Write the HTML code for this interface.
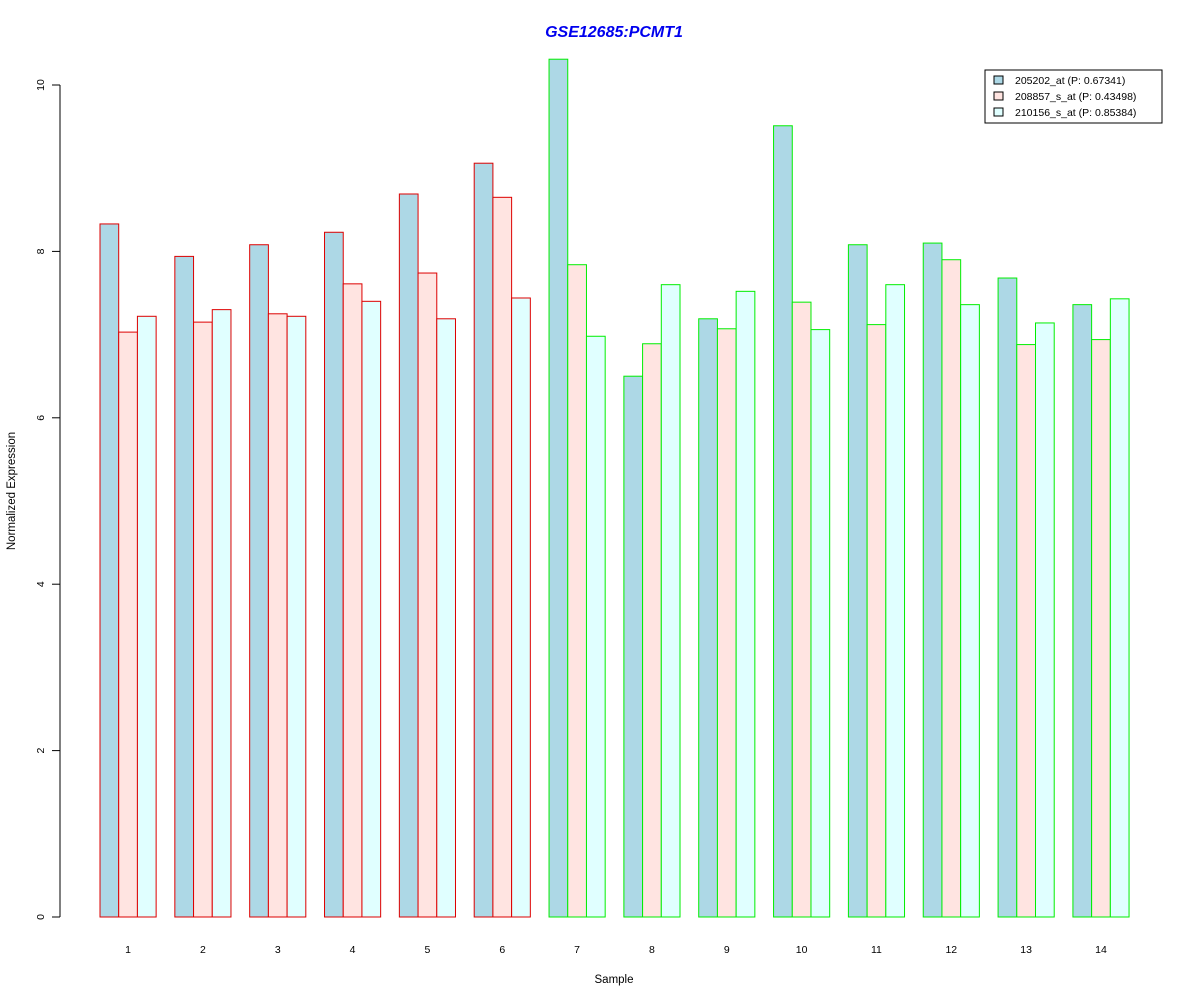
<!DOCTYPE html>
<html><head><meta charset="utf-8"><style>body{margin:0;background:#fff}svg{display:block}</style></head>
<body>
<svg id="chart" width="1200" height="1000" xmlns="http://www.w3.org/2000/svg" font-family="Liberation Sans, sans-serif">
<text x="614" y="37" text-anchor="middle" font-size="16" font-weight="bold" font-style="italic" fill="#0000ee">GSE12685:PCMT1</text>
<text x="614" y="983" text-anchor="middle" font-size="11.5">Sample</text>
<text transform="translate(15,491) rotate(-90)" text-anchor="middle" font-size="11.5">Normalized Expression</text>
<g id="bars"></g><g id="axes"></g>
<g>
<rect x="985" y="70" width="177" height="53" fill="#fff" stroke="#000"/>
<rect x="994" y="76" width="9" height="8" fill="#ADD8E6" stroke="#000"/>
<text x="1015" y="84" font-size="10.5">205202_at (P: 0.67341)</text>
<rect x="994" y="92" width="9" height="8" fill="#FFE4E1" stroke="#000"/>
<text x="1015" y="100" font-size="10.5">208857_s_at (P: 0.43498)</text>
<rect x="994" y="108" width="9" height="8" fill="#E0FFFF" stroke="#000"/>
<text x="1015" y="116" font-size="10.5">210156_s_at (P: 0.85384)</text>
</g>
</svg>
<script>
const samples=["1","2","3","4","5","6","7","8","9","10","11","12","13","14"];
const s205202=[8.33,7.94,8.08,8.23,8.69,9.06,10.31,6.50,7.19,9.51,8.08,8.10,7.68,7.36];
const s208857=[7.03,7.15,7.25,7.61,7.74,8.65,7.84,6.89,7.07,7.39,7.12,7.90,6.88,6.94];
const s210156=[7.22,7.30,7.22,7.40,7.19,7.44,6.98,7.60,7.52,7.06,7.60,7.36,7.14,7.43];
const groups=[1,1,1,1,1,1,2,2,2,2,2,2,2,2];
const yTicks=[0,2,4,6,8,10];
const NS="http://www.w3.org/2000/svg";
const y=v=>917-v*83.2;
const unit=18.71,x0=100;
const bx=(i,j)=>x0+(i*4+j)*unit;
const fills=["#ADD8E6","#FFE4E1","#E0FFFF"];
const series=[s205202,s208857,s210156];
const bars=document.getElementById('bars'),axes=document.getElementById('axes');
samples.forEach((s,i)=>{
 series.forEach((arr,j)=>{
  const r=document.createElementNS(NS,'rect');
  
  
  r.setAttribute('x',bx(i,j));r.setAttribute('y',y(arr[i]));
  r.setAttribute('width',unit);r.setAttribute('height',y(0)-y(arr[i]));
  r.setAttribute('fill',fills[j]);r.setAttribute('stroke',groups[i]===1?'#dd0000':'#00ee00');
  bars.appendChild(r);
 });
 const t=document.createElementNS(NS,'text');
 
 
 t.setAttribute('x',bx(i,1)+unit/2);t.setAttribute('y',953);
 t.setAttribute('text-anchor','middle');t.setAttribute('font-size','10.5');t.textContent=s;
 axes.appendChild(t);
});
const ax=document.createElementNS(NS,'line');


ax.setAttribute('x1',60);ax.setAttribute('x2',60);ax.setAttribute('y1',y(0));ax.setAttribute('y2',y(10));ax.setAttribute('stroke','#000');
axes.appendChild(ax);
yTicks.forEach(v=>{
 const l=document.createElementNS(NS,'line');
 
 
 l.setAttribute('x1',52);l.setAttribute('x2',60);l.setAttribute('y1',y(v));l.setAttribute('y2',y(v));l.setAttribute('stroke','#000');
 axes.appendChild(l);
 const t=document.createElementNS(NS,'text');
 
 
 t.setAttribute('transform','translate(44,'+y(v)+') rotate(-90)');
 t.setAttribute('text-anchor','middle');t.setAttribute('font-size','10.5');t.textContent=v;
 axes.appendChild(t);
});
</script>
</body></html>
